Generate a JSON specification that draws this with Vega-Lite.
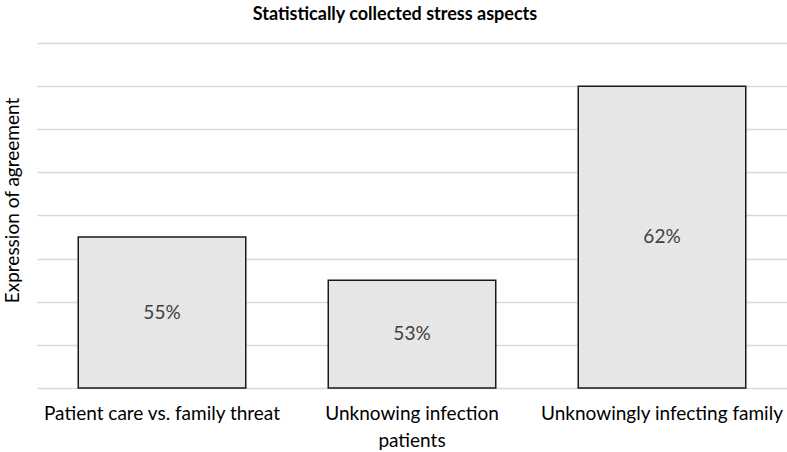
{
  "$schema": "https://vega.github.io/schema/vega-lite/v6.json",
  "autosize": "none",
  "width": 750,
  "height": 345,
  "padding": {"left": 37, "top": 43, "right": 0, "bottom": 64},
  "background": "white",
  "config": {
    "font": "Lato",
    "view": {"stroke": null}
  },
  "title": {
    "text": "Statistically collected stress aspects",
    "fontSize": 18,
    "fontWeight": "bold",
    "color": "#000000",
    "anchor": "middle",
    "frame": "group",
    "offset": 19,
    "dx": -17
  },
  "data": {
    "values": [
      {"category": "Patient care vs. family threat", "value": 0.55},
      {"category": "Unknowing infection patients", "value": 0.53},
      {"category": "Unknowingly infecting family", "value": 0.62}
    ]
  },
  "encoding": {
    "x": {
      "field": "category",
      "type": "nominal",
      "sort": null,
      "scale": {"paddingInner": 0.33, "paddingOuter": 0.165},
      "axis": {
        "title": null,
        "labelAngle": 0,
        "labelFontSize": 19,
        "labelColor": "#000000",
        "labelPadding": 16,
        "labelLimit": 300,
        "labelLineHeight": 27,
        "labelExpr": "datum.label == 'Unknowing infection patients' ? ['Unknowing infection', 'patients'] : datum.label",
        "ticks": false,
        "domain": false,
        "grid": false
      }
    }
  },
  "layer": [
    {
      "mark": {"type": "bar", "fill": "#e6e6e6", "stroke": "#1a1a1a", "strokeWidth": 1.5},
      "encoding": {
        "y": {
          "field": "value",
          "type": "quantitative",
          "scale": {"domain": [0.48, 0.64], "zero": false, "nice": false},
          "axis": {
            "title": "Expression of agreement",
            "titleFontSize": 19,
            "titleFontWeight": "normal",
            "titleColor": "#000000",
            "titleX": -25,
            "titleY": 157,
            "titleBaseline": "middle",
            "labels": false,
            "ticks": false,
            "domain": false,
            "grid": true,
            "gridColor": "#d9d9d9",
            "gridWidth": 1.3,
            "values": [0.48, 0.5, 0.52, 0.54, 0.56, 0.58, 0.6, 0.62, 0.64]
          }
        },
        "y2": {"datum": 0.48}
      }
    },
    {
      "mark": {"type": "text", "fontSize": 19, "color": "#404040", "baseline": "middle"},
      "encoding": {
        "y": {
          "field": "value",
          "type": "quantitative",
          "scale": {"domain": [0.48, 0.8], "zero": false, "nice": false},
          "axis": null
        },
        "text": {"field": "value", "type": "quantitative", "format": ".0%"}
      }
    }
  ],
  "resolve": {"scale": {"y": "independent"}}
}
